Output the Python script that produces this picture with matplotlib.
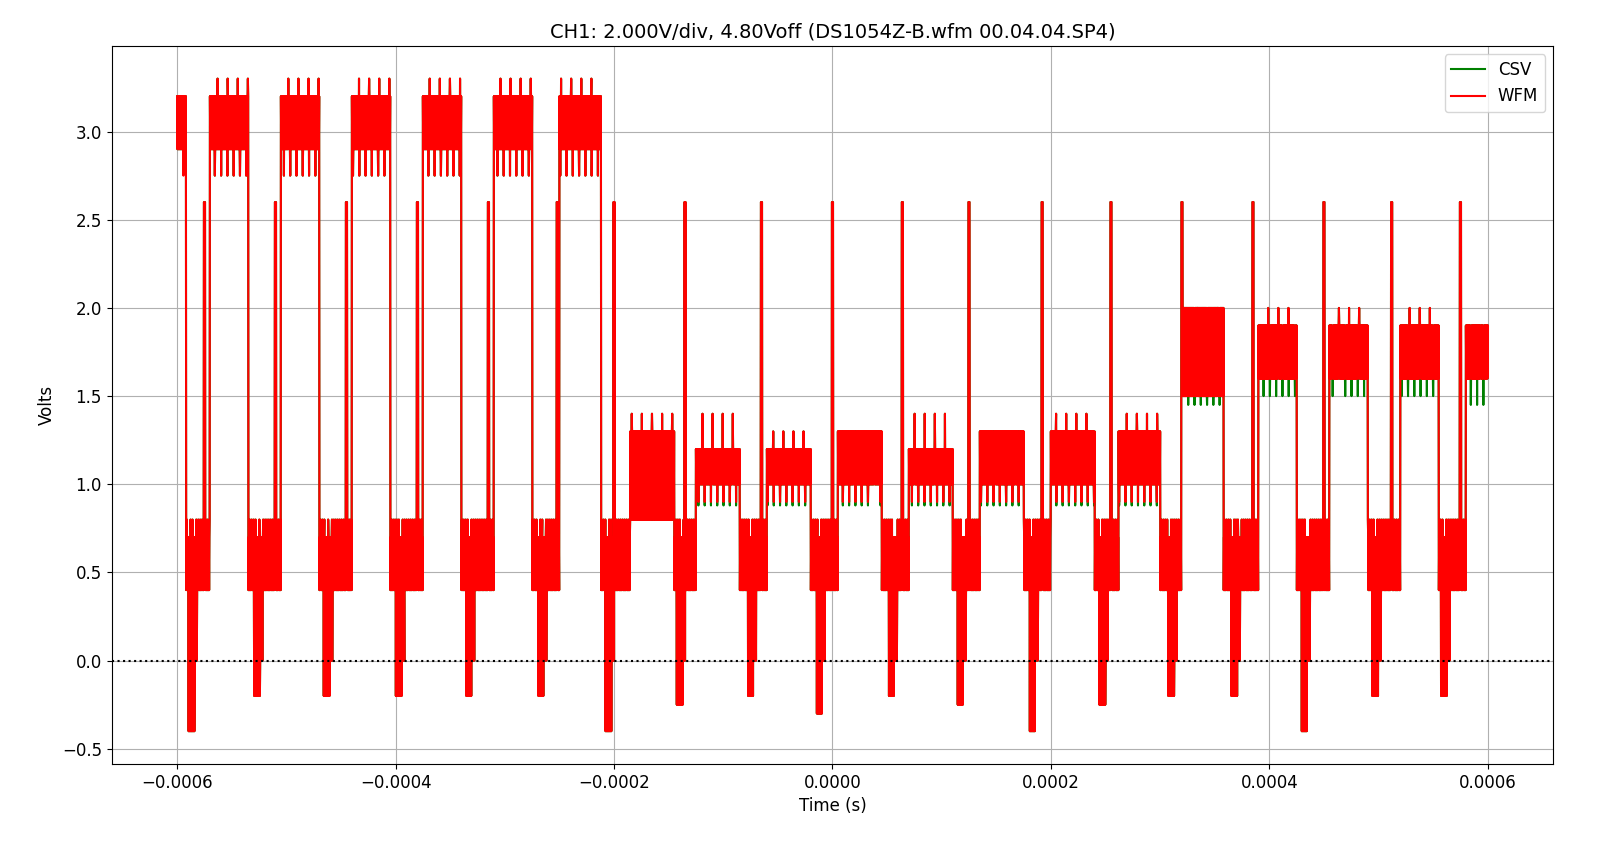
import numpy as np
import matplotlib.pyplot as plt

# bursts (microseconds)
burst_start = [-600, -570, -505, -440, -375, -310, -250, -185, -125, -60, 5, 70, 135, 200, 262, 320, 390, 455, 520, 580]
burst_end   = [-592, -535, -470, -405, -340, -275, -212, -145, -85, -20, 45, 110, 175, 240, 300, 358, 425, 490, 555, 600]
burst_hi    = [3.2, 3.2, 3.2, 3.2, 3.2, 3.2, 3.2, 1.3, 1.2, 1.2, 1.3, 1.2, 1.3, 1.3, 1.3, 2.0, 1.9, 1.9, 1.9, 1.9]
burst_lo    = [2.9, 2.9, 2.9, 2.9, 2.9, 2.9, 2.9, 0.8, 1.0, 1.0, 1.0, 1.0, 1.0, 1.0, 1.0, 1.5, 1.6, 1.6, 1.6, 1.6]
burst_dip   = [2.75, 2.75, 2.75, 2.75, 2.75, 2.75, 2.75, 0.8, 0.9, 0.9, 0.9, 0.9, 0.9, 0.9, 0.9, 1.5, 1.6, 1.6, 1.6, 1.6]
csv_lo      = [2.8, 2.75, 2.75, 2.75, 2.75, 2.75, 2.75, 0.8, 0.88, 0.88, 0.88, 0.88, 0.88, 0.88, 0.88, 1.45, 1.5, 1.5, 1.5, 1.45]
burst_peak  = [3.2, 3.3, 3.3, 3.3, 3.3, 3.3, 3.3, 1.4, 1.4, 1.3, 1.3, 1.4, 1.3, 1.4, 1.4, 2.0, 2.0, 2.0, 2.0, 1.9]
# 2.6 V spikes and negative dips between bursts
spike_t = [-575, -510, -445, -380, -315, -252, -200, -135, -65, 0, 64, 125, 192, 255, 320, 385, 450, 512, 575]
dip_t   = [-587, -527, -463, -397, -333, -267, -205, -140, -75, -12, 54, 117, 183, 247, 310, 368, 432, 497, 560]
dip_v   = [-0.4, -0.2, -0.2, -0.2, -0.2, -0.2, -0.4, -0.25, -0.2, -0.3, -0.2, -0.25, -0.4, -0.25, -0.2, -0.2, -0.4, -0.2, -0.2]

t = np.arange(-600, 600.01, 0.25)
k = np.arange(len(t))
alt = (k % 2 == 0)
# baseline between bursts: 0.4 - 0.7
wfm = np.where(alt, 0.7, 0.4)
wfm[k % 7 == 0] = 0.8
csv = wfm.copy()
for s, e, hi, lo, dp, cl, pk in zip(burst_start, burst_end, burst_hi, burst_lo, burst_dip,
                                    csv_lo, burst_peak):
    m = (t >= s) & (t <= e)
    wfm[m] = np.where(alt[m], hi, lo)
    csv[m] = wfm[m]
    md = m & (k % 23 == 0)
    wfm[md] = dp
    csv[md] = cl
    mp = m & (k % 37 == 0)
    wfm[mp] = pk
    csv[mp] = pk
for st in spike_t:
    m = np.abs(t - st) < 0.6
    wfm[m] = 2.6
    csv[m] = 2.6
for dt_, dv in zip(dip_t, dip_v):
    m = (np.abs(t - dt_) < 3) & (k % 3 == 0)
    wfm[m] = dv
    csv[m] = dv
    m2 = (np.abs(t - dt_ - 4) < 2) & (k % 4 == 0)
    wfm[m2] = 0.0
    csv[m2] = 0.0

fig, ax = plt.subplots(figsize=(16.18, 8.68), dpi=100)
ax.plot(t * 1e-6, csv, color="green", label="CSV")
ax.plot(t * 1e-6, wfm, color="red", label="WFM")
ax.axhline(0, color="black", linestyle=":")
ax.set_title("CH1: 2.000V/div, 4.80Voff (DS1054Z-B.wfm 00.04.04.SP4)", fontsize=14)
ax.set_xlabel("Time (s)", fontsize=12)
ax.set_ylabel("Volts", fontsize=12)
ax.tick_params(labelsize=12)
ax.grid(True)
ax.legend(fontsize=12)
plt.subplots_adjust(left=0.069, right=0.96, top=0.947, bottom=0.12)
plt.savefig("out.png")
